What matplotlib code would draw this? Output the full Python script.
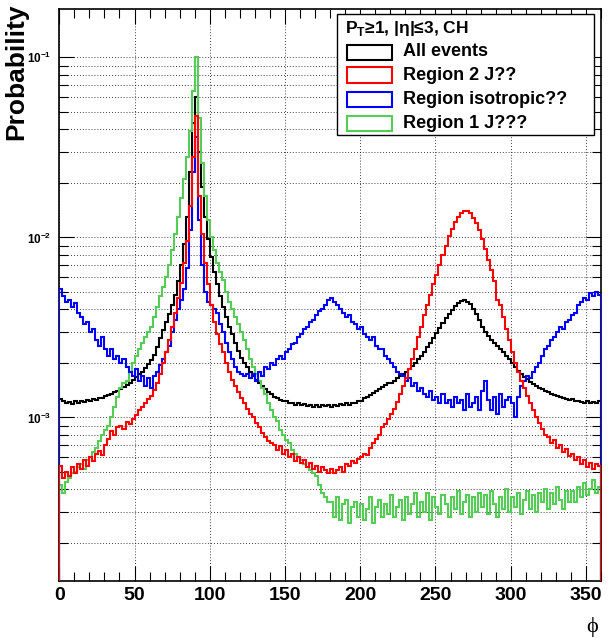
import numpy as np
import matplotlib
matplotlib.use('Agg')
import matplotlib.pyplot as plt
from matplotlib.patches import Rectangle
from matplotlib.ticker import MultipleLocator, LogLocator, FuncFormatter, NullFormatter

plt.rcParams['font.family'] = ['Liberation Sans', 'DejaVu Sans']
plt.rcParams['mathtext.fontset'] = 'custom'
plt.rcParams['mathtext.rm'] = 'Liberation Sans'
plt.rcParams['mathtext.bf'] = 'Liberation Sans:bold'

# 2 degree bins, values in units of 1e-4
bin_edges = np.arange(0, 362, 2)
scale = 1e-4

all_events = [
    12.6, 12.3, 12.0, 12.2, 11.9, 12.3, 12.1, 12.4, 12.2, 12.5,
    12.4, 12.6, 12.5, 12.8, 12.9, 13.1, 13.3, 13.5, 13.8, 14.0,
    14.4, 14.8, 15.2, 15.6, 16.2, 16.8, 17.4, 18.0, 18.8, 19.7,
    20.8, 22.2, 24.5, 27.5, 30.5, 34.0, 37.5, 42.0, 48.0, 57.0,
    70, 92, 130, 230, 430, 600, 300, 190, 130, 98,
    78, 64, 55, 47, 41, 36, 32, 29, 26, 23.5,
    21.5, 20.0, 19.0, 18.0, 17.0, 16.2, 15.5, 15.0, 14.4, 13.9,
    13.5, 13.0, 12.8, 12.5, 12.3, 12.4, 12.0, 12.1, 11.8, 12.0,
    11.7, 11.9, 11.6, 11.8, 11.5, 11.7, 11.4, 11.8, 11.6, 11.7,
    11.5, 11.8, 11.6, 11.9, 11.7, 12.0, 11.8, 12.1, 12.0, 12.3,
    12.4, 12.8, 13.0, 13.3, 13.7, 14.0, 14.4, 14.7, 15.1, 15.6,
    15.5, 16.0, 16.5, 17.0, 17.5, 18.0, 18.7, 19.3, 20.0, 21.0,
    22.0, 23.0, 24.5, 26.0, 27.5, 29.5, 31.5, 33.5, 35.5, 37.5,
    39.5, 41.5, 43.0, 44.5, 45.0, 44.0, 42.5, 40.0, 37.5, 35.0,
    32.0, 30.0, 28.5, 27.0, 26.0, 25.0, 24.0, 23.0, 22.0, 21.0,
    20.0, 19.0, 18.2, 17.5, 16.8, 16.3, 15.8, 15.4, 15.0, 14.6,
    14.3, 14.0, 13.8, 13.5, 13.3, 13.1, 13.0, 12.8, 12.7, 12.5,
    12.6, 12.3, 12.4, 12.2, 12.1, 12.3, 12.0, 12.2, 12.1, 12.3,
]

region2 = [
    5.4, 4.6, 5.0, 4.7, 5.3, 4.9, 5.5, 5.2, 5.8, 5.4,
    6.0, 5.7, 6.3, 6.5, 6.2, 7.0, 7.6, 8.4, 8.0, 8.8,
    9.0, 8.6, 9.4, 9.2, 9.8, 10.3, 11.0, 11.4, 12.0, 12.6,
    13.2, 14.2, 15.5, 17.5, 20.0, 23.0, 27.0, 32.0, 38.0, 46.0,
    56, 72, 95, 150, 280, 470, 170, 105, 72, 55,
    42, 34, 29, 25.5, 23, 20, 18, 16.2, 15, 13.8,
    12.8, 12.0, 11.2, 10.5, 10.0, 9.3, 8.9, 8.2, 7.8, 7.4,
    7.2, 7.0, 6.6, 6.9, 6.3, 6.6, 6.0, 6.3, 5.7, 6.0,
    5.6, 5.8, 5.3, 5.6, 5.2, 5.4, 5.0, 5.3, 5.1, 4.9,
    5.2, 4.9, 5.1, 5.3, 5.0, 5.5, 5.4, 5.7, 5.6, 5.9,
    6.0, 6.3, 6.2, 6.8, 7.2, 7.6, 8.0, 8.8, 9.2, 9.8,
    10.4, 11.2, 12.2, 13.5, 15.0, 16.5, 18.5, 21.0, 24.0, 28.0,
    32, 37, 42, 48, 55, 62, 70, 80, 90, 102,
    112, 122, 130, 137, 141, 140, 136, 128, 120, 110,
    98, 86, 75, 66, 57, 45, 42, 36, 31, 27,
    23, 20, 18, 16, 14.5, 13.2, 12.0, 11.0, 10.0, 9.3,
    8.6, 8.0, 7.8, 7.2, 7.5, 6.8, 7.0, 6.4, 6.7, 6.1,
    6.3, 5.8, 6.0, 5.5, 5.8, 5.3, 5.6, 5.2, 5.5, 5.4,
]

isotropic = [
    52, 47, 44, 45, 41, 43, 38, 36, 33, 34,
    30, 31, 27, 25, 28, 24, 22, 24, 21, 22,
    20, 21, 19, 18, 17, 18.5, 16, 17, 15, 16.5,
    14.5, 17, 18, 19.5, 21, 23, 25, 30, 35, 40,
    45, 52, 68, 110, 230, 360, 125, 70, 50, 44,
    42, 40, 38, 33, 30, 26, 23, 21, 19, 18,
    17.5, 17, 17.5, 16.5, 17.5, 16, 18, 17, 19, 18.5,
    20, 19.5, 21, 22, 21, 23, 24, 25.5, 26, 28,
    29, 31, 32, 34, 35, 37, 39, 40, 42, 45,
    46, 44, 42, 40, 38, 36, 37, 34, 33, 31,
    32, 29, 28, 27, 28, 25, 24, 24, 22, 21,
    20, 19, 18, 17.5, 17, 16, 16.5, 15, 15.5, 14,
    14.5, 13.5, 13, 14, 12.5, 13, 12, 13.5, 12, 12.5,
    11.5, 13, 12, 12.5, 11, 13.5, 11.5, 12, 13, 11,
    14, 16, 12.5, 11, 13, 10.5, 13.5, 11.5, 12.5, 13,
    12, 10, 13, 15, 16, 17, 16.5, 18, 19, 20,
    22, 24, 25, 27, 28, 30, 32, 31, 34, 35,
    37, 38, 42, 44, 46, 45, 49, 47, 50, 48,
]

region1 = [
    4.2, 3.8, 4.4, 4.6, 4.9, 5.0, 5.3, 5.5, 5.2, 5.8,
    6.0, 6.4, 6.8, 7.4, 8.0, 8.5, 9.0, 10.0, 11.5, 13.0,
    14.5, 15.5, 16.0, 18.0, 20.0, 22.0, 24.0, 26.0, 28.0, 30.0,
    32, 36, 41, 47, 53, 60, 70, 85, 105, 130,
    165, 210, 280, 390, 650, 1000, 460, 260, 170, 125,
    100, 85, 72, 64, 58, 50, 44, 40, 36, 33,
    30, 27, 24, 21, 19, 17.5, 16, 14.5, 13.5, 12,
    11, 10, 9.5, 8.5, 8.0, 7.5, 7.2, 6.6, 6.3, 6.0,
    5.8, 5.5, 5.3, 5.1, 4.9, 4.7, 4.2, 3.8, 3.6, 3.4,
    3.4, 2.8, 3.6, 2.7, 3.3, 3.5, 2.6, 3.2, 3.4, 2.8,
    3.3, 2.7, 3.1, 3.6, 2.6, 3.2, 3.5, 2.8, 3.3, 2.9,
    3.7, 2.8, 3.2, 3.5, 2.7, 3.6, 2.9, 3.3, 3.8, 2.8,
    3.4, 3.0, 3.8, 2.7, 3.6, 3.2, 2.9, 3.7, 3.3, 2.8,
    3.6, 3.1, 3.9, 2.9, 3.4, 3.7, 2.8, 3.6, 3.0, 3.8,
    3.2, 3.7, 2.9, 3.9, 3.3, 2.8, 3.6, 3.1, 4.0, 3.0,
    3.6, 3.2, 3.8, 2.9, 3.5, 3.9, 3.1, 3.7, 3.0, 3.8,
    3.4, 4.0, 3.1, 3.8, 3.3, 4.1, 3.5, 3.1, 3.9, 3.4,
    3.9, 3.4, 4.1, 3.6, 4.3, 3.7, 4.0, 4.5, 3.8, 4.1,
]

labels = ['All events', 'Region 2 J??', 'Region isotropic??', 'Region 1 J???']
colors = ['black', '#ff0000', '#0000ff', '#55cc55']
header = r'$\mathbf{P}_{\mathbf{T}}$≥1, |η|≤3, CH'

W, H = 615, 643
fig = plt.figure(figsize=(W / 100, H / 100), dpi=100)
ax = fig.add_axes([59.3 / W, 1 - 581.3 / H, (601 - 59.3) / W, (581.3 - 9.3) / H])

ymin, ymax = 1.23e-4, 0.185
series = {'black': all_events, '#55cc55': region1, '#0000ff': isotropic, '#ff0000': region2}
for z, (col, vals) in enumerate(series.items()):
    ax.stairs(np.array(vals) * scale, bin_edges, baseline=1e-6, color=col, lw=1.5, zorder=3 + z)

ax.set_yscale('log')
ax.set_xlim(0, 360)
ax.set_ylim(ymin, ymax)

ax.xaxis.set_major_locator(MultipleLocator(50))
ax.xaxis.set_minor_locator(MultipleLocator(10))
ax.yaxis.set_major_locator(LogLocator(base=10))
ax.yaxis.set_minor_locator(LogLocator(base=10, subs=np.arange(2, 10)))
ax.yaxis.set_major_formatter(FuncFormatter(lambda v, p: r'$\mathbf{10^{%d}}$' % round(np.log10(v))))
ax.yaxis.set_minor_formatter(NullFormatter())

ax.tick_params(which='both', direction='in', top=True, right=True, width=0.8)
ax.tick_params(which='major', length=11)
ax.tick_params(which='minor', length=6.5)
ax.tick_params(axis='x', labelsize=14, pad=4)
ax.tick_params(axis='y', labelsize=8.5, pad=6)
for lab in ax.get_xticklabels():
    lab.set_fontweight('bold')

ax.grid(True, which='major', axis='x', color='black', ls=(0, (1, 2.5)), lw=0.6)
ax.grid(True, which='both', axis='y', color='black', ls=(0, (1, 2.5)), lw=0.6)
for sp in ax.spines.values():
    sp.set_linewidth(1.2)

fig.text(16 / W, 1 - 4 / H, 'Probability', rotation=90, ha='center', va='top',
         fontsize=19, fontweight='bold')
fig.text(592 / W, 1 - 627 / H, 'ϕ', ha='center', va='center', fontsize=16,
         family=['Liberation Serif', 'DejaVu Serif'])

# legend box
def fx(px):
    return px / W

def fy(py):
    return 1 - py / H

fig.add_artist(Rectangle((fx(337), fy(135)), fx(594) - fx(337), fy(14) - fy(135),
                         transform=fig.transFigure, facecolor='white', edgecolor='black',
                         lw=1, zorder=10))
fig.text(fx(345), fy(28), header, ha='left', va='center', fontsize=12.5,
         fontweight='bold', zorder=11)
for i, (lab, col) in enumerate(zip(labels, colors)):
    yc = [52, 75, 99, 123][i]
    fig.add_artist(Rectangle((fx(347), fy(yc + 7.5)), fx(392) - fx(347), fy(yc - 7.5) - fy(yc + 7.5),
                             transform=fig.transFigure, facecolor='white', edgecolor=col,
                             lw=1.5, zorder=11))
    fig.text(fx(403), fy(yc), lab, ha='left', va='center', fontsize=13,
             fontweight='bold', zorder=11)

fig.savefig('out.png', dpi=100)
